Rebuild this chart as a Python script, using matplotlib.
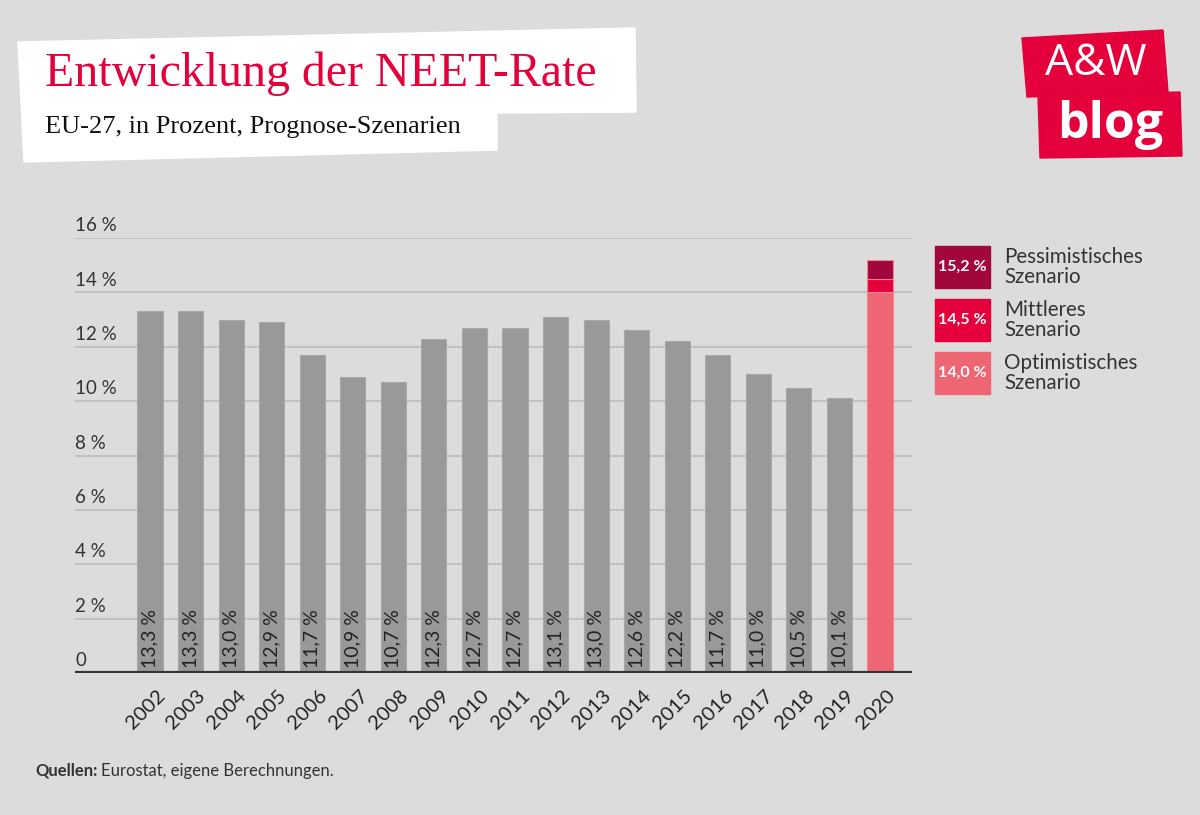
import matplotlib
matplotlib.use('Agg')
import matplotlib.pyplot as plt
from matplotlib.patches import Polygon, Rectangle
import matplotlib.transforms as mtransforms

# data
years = ['2002', '2003', '2004', '2005', '2006', '2007', '2008', '2009', '2010',
         '2011', '2012', '2013', '2014', '2015', '2016', '2017', '2018', '2019']
rates = [13.3, 13.3, 13.0, 12.9, 11.7, 10.9, 10.7, 12.3, 12.7,
         12.7, 13.1, 13.0, 12.6, 12.2, 11.7, 11.0, 10.5, 10.1]
scen_year = '2020'
scen_names = ['Pessimistisches\nSzenario', 'Mittleres\nSzenario', 'Optimistisches\nSzenario']
scen_values = [15.2, 14.5, 14.0]
scen_colors = ['#a1063d', '#e3003b', '#ee6674']

BG = '#dcdcdc'
BAR = '#999999'
TXT = '#333333'
SANS = ['Lato', 'DejaVu Sans']
SERIF = ['Liberation Serif', 'DejaVu Serif']

fig = plt.figure(figsize=(12, 8.15), dpi=100)
fig.patch.set_facecolor(BG)

ax = fig.add_axes([0.0625, 0.1742, 0.6975, 0.5338])
ax.set_facecolor(BG)
ax.set_xlim(-1.85, 18.79)
ax.set_ylim(0, 16)

for y in range(2, 17, 2):
    ax.axhline(y, color='#bcbcbc', lw=1.2, zorder=0)

xs = list(range(len(years)))
ax.bar(xs, rates, width=0.62, color=BAR, edgecolor='#a8a8a8', lw=0.8, zorder=2)

# scenario bar, stacked from bottom
x20 = len(years)
order = sorted(range(len(scen_values)), key=lambda i: scen_values[i])
prev = 0
for i in order:
    ax.bar(x20, scen_values[i] - prev, bottom=prev, width=0.62,
           color=scen_colors[i], edgecolor='#f08590', lw=0.8, zorder=2)
    prev = scen_values[i]

for x, v in zip(xs, rates):
    ax.text(x, 0.2, ('%.1f %%' % v).replace('.', ','), rotation=90,
            ha='center', va='bottom', fontsize=14, color='#222222',
            family=SANS, zorder=3)

ax.axhline(0, color='#333333', lw=3, zorder=4)

ax.set_xticks([])
ax.set_yticks([])
for s in ax.spines.values():
    s.set_visible(False)

trans = mtransforms.blended_transform_factory(ax.transAxes, ax.transData)
for y in range(0, 17, 2):
    lab = '0' if y == 0 else '%d %%' % y
    ax.text(0.0, y + 0.14, lab, transform=trans, ha='left', va='bottom',
            fontsize=13.5, color=TXT, family=SANS)

for x, yr in zip(xs + [x20], years + [scen_year]):
    ax.text(x + 0.15, -0.5, yr, rotation=45, rotation_mode='anchor',
            ha='right', va='top', fontsize=14.5, color='#222222', family=SANS)

# legend
W, H = 1200, 815
def fx(px):
    return px / W
def fy(py):
    return 1 - py / H

box_tops = [246, 299, 352]
for top, name, val, col in zip(box_tops, scen_names, scen_values, scen_colors):
    fig.patches.append(Rectangle((fx(935), fy(top + 42)), fx(55), 42 / H,
                                 transform=fig.transFigure, color=col))
    fig.text(fx(962.5), fy(top + 21), ('%.1f %%' % val).replace('.', ','),
             ha='center', va='center', color='white', fontsize=11.5,
             fontweight='bold', family=SANS)
    fig.text(fx(1004), fy(top + 1), name, ha='left', va='top', fontsize=14.8,
             color=TXT, family=SANS, linespacing=1.0)

# title box
title_poly = [(18, 42), (635, 28), (636, 112), (497, 113), (497, 150), (24, 162)]
fig.patches.append(Polygon([(fx(a), fy(b)) for a, b in title_poly], closed=True,
                           transform=fig.transFigure, color='white'))
fig.text(fx(45), fy(74), 'Entwicklung der NEET-Rate', ha='left', va='center',
         fontsize=34.5, color='#e3003b', family=SERIF)
fig.text(fx(45), fy(127), 'EU-27, in Prozent, Prognose-Szenarien', ha='left',
         va='center', fontsize=19, color='#111111', family=SERIF)

# logo
logo1 = [(1022, 38), (1163, 30), (1168, 92), (1027, 97)]
logo2 = [(1038, 96), (1180, 92), (1182, 156), (1040, 158)]
for poly in (logo1, logo2):
    fig.patches.append(Polygon([(fx(a), fy(b)) for a, b in poly], closed=True,
                               transform=fig.transFigure, color='#e3003b'))
fig.text(fx(1096), fy(64), 'A&W', ha='center', va='center', fontsize=32,
         color='white', family=['Open Sans', 'DejaVu Sans'])
fig.text(fx(1110), fy(125), 'blog', ha='center', va='center', fontsize=36,
         color='white', fontweight='bold', family=['Open Sans', 'DejaVu Sans'])

# source
q = fig.text(fx(35), fy(771), 'Quellen:', ha='left', va='center', fontsize=12,
             color=TXT, fontweight='bold', family=SANS)
fig.canvas.draw()
bb = q.get_window_extent()
fig.text(bb.x1 / W + 4 / W, fy(771), 'Eurostat, eigene Berechnungen.', ha='left',
         va='center', fontsize=12, color=TXT, family=SANS)

fig.savefig('out.png', dpi=100, facecolor=BG)
